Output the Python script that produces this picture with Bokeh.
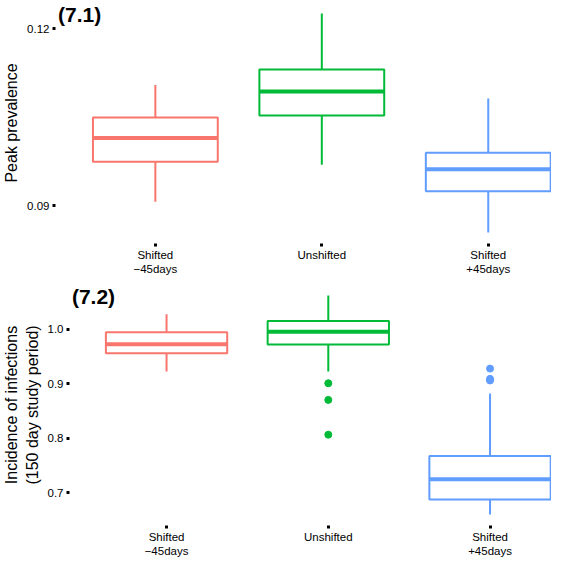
from bokeh.plotting import figure
from bokeh.models import Range1d, FixedTicker, Label, ColumnDataSource, NumeralTickFormatter
from bokeh.layouts import column, row
from bokeh.transform import dodge
from bokeh.embed import file_html
from bokeh.resources import INLINE

categories = ["Shifted\n\u221245days", "Unshifted", "Shifted\n+45days"]
colors = ["#F8766D", "#00BA38", "#619CFF"]

# Panel (7.1): peak prevalence
prev_lower_whisker = [0.0907, 0.0970, 0.0855]
prev_q1 = [0.0975, 0.1053, 0.0925]
prev_median = [0.1015, 0.1094, 0.0962]
prev_q3 = [0.1050, 0.1131, 0.0990]
prev_upper_whisker = [0.1105, 0.1226, 0.1082]
prev_outliers = [[], [], []]
prev_ticks = [0.09, 0.12]

# Panel (7.2): incidence of infections
inc_lower_whisker = [0.9224, 0.9224, 0.660]
inc_q1 = [0.9558, 0.9719, 0.6876]
inc_median = [0.9726, 0.9952, 0.7246]
inc_q3 = [0.9946, 1.0149, 0.7676]
inc_upper_whisker = [1.0274, 1.062, 0.8823]
inc_outliers = [[], [0.9009, 0.8704, 0.8065], [0.9278, 0.9090, 0.9060]]
inc_ticks = [0.7, 0.8, 0.9, 1.0]

FONT = "Liberation Sans"


def panel(title, ylabel, lw, q1, med, q3, uw, outliers, ticks, fmt, height, top_border, left_border):
    xs = list(range(1, len(categories) + 1))
    allv = lw + uw + [v for o in outliers for v in o]
    lo, hi = min(allv), max(allv)
    pad = 0.05 * (hi - lo)
    p = figure(width=551, height=height, x_range=Range1d(0.4, 3.38),
               y_range=Range1d(lo - pad, hi + pad),
               output_backend="svg", toolbar_location=None,
               min_border_top=top_border, min_border_right=0,
               min_border_left=left_border, min_border_bottom=0)
    p.outline_line_color = None
    p.xgrid.visible = False
    p.ygrid.visible = False
    p.background_fill_color = "white"

    src = ColumnDataSource(dict(x=xs, lw=lw, q1=q1, med=med, q3=q3, uw=uw, color=colors))
    p.segment(x0="x", y0="q3", x1="x", y1="uw", line_color="color", line_width=2, source=src)
    p.segment(x0="x", y0="lw", x1="x", y1="q1", line_color="color", line_width=2, source=src)
    p.vbar(x="x", width=0.75, bottom="q1", top="q3", fill_color="white",
           line_color="color", line_width=2, source=src)
    p.segment(x0=dodge("x", -0.375), y0="med", x1=dodge("x", 0.375), y1="med",
              line_color="color", line_width=4, source=src)

    ox, oy, oc = [], [], []
    for x, o, c in zip(xs, outliers, colors):
        for v in o:
            ox.append(x)
            oy.append(v)
            oc.append(c)
    if ox:
        p.scatter(x=ox, y=oy, size=7, color=oc)

    ax = p.xaxis[0]
    ax.ticker = FixedTicker(ticks=xs)
    ax.major_label_overrides = {x: c for x, c in zip(xs, categories)}
    ax.axis_label = None
    ax.axis_label_standoff = 0
    ax.axis_line_color = None
    ax.major_tick_line_width = 3
    ax.major_tick_out = 3
    ax.major_tick_in = 0
    ax.minor_tick_line_color = None
    ax.major_label_text_font = FONT
    ax.major_label_text_font_size = "11.5px"
    ax.major_label_text_color = "black"
    ax.major_label_standoff = 2

    ay = p.yaxis[0]
    ay.ticker = FixedTicker(ticks=ticks)
    ay.formatter = NumeralTickFormatter(format=fmt)
    ay.axis_line_color = None
    ay.major_tick_line_width = 3
    ay.major_tick_out = 3
    ay.major_tick_in = 0
    ay.minor_tick_line_color = None
    ay.major_label_text_font = FONT
    ay.major_label_text_font_size = "11.5px"
    ay.major_label_text_color = "black"
    ay.major_label_standoff = 3
    ay.axis_label = ylabel
    ay.axis_label_text_font = FONT
    ay.axis_label_text_font_size = "16px"
    ay.axis_label_text_font_style = "normal"
    ay.axis_label_text_color = "black"
    ay.axis_label_standoff = 4

    p.add_layout(Label(x=0.415, y=hi + pad, text=title, text_font=FONT,
                       text_font_size="21px", text_font_style="bold",
                       text_baseline="top", text_color="black"))
    return p


p1 = panel("(7.1)", "Peak prevalence", prev_lower_whisker, prev_q1, prev_median,
           prev_q3, prev_upper_whisker, prev_outliers, prev_ticks, "0.00", 277, 2, 0)
p2 = panel("(7.2)", "Incidence of infections\n(150 day study period)", inc_lower_whisker,
           inc_q1, inc_median, inc_q3, inc_upper_whisker, inc_outliers, inc_ticks,
           "0.0", 282, 7, 0)

layout = column(row(p1), row(p2), spacing=0)
open("out.html", "w").write(file_html(layout, INLINE))
